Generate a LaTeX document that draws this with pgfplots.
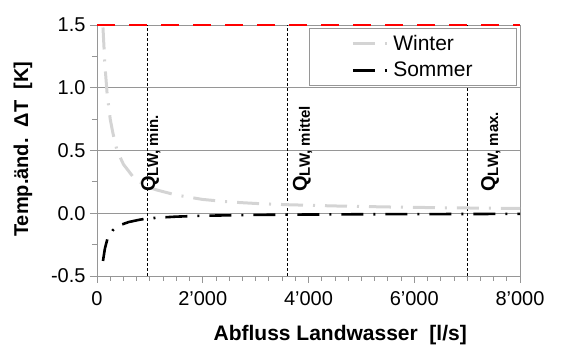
\documentclass[border=0pt]{standalone}
\usepackage{fontspec}
\setmainfont{Liberation Sans}
\usepackage{pgfplots}
\pgfplotsset{compat=1.18}
\definecolor{axgray}{RGB}{150,150,150}
\definecolor{wgray}{RGB}{212,212,212}
\begin{document}
\begin{tikzpicture}
\useasboundingbox (0,0) rectangle (561pt,347pt);
\begin{axis}[
  at={(97pt,71pt)}, anchor=south west,
  scale only axis, width=423pt, height=251pt,
  xmin=0, xmax=8000, ymin=-0.5, ymax=1.5,
  xtick={0,2000,4000,6000,8000},
  xticklabels={0,2'000,4'000,6'000,8'000},
  minor x tick num=7,
  ytick={-0.5,0,0.5,1,1.5},
  yticklabels={-0.5,0.0,0.5,1.0,1.5},
  minor y tick num=1,
  tick align=outside,
  major tick length=7pt, minor tick length=5pt,
  xtick pos=bottom, ytick pos=left,
  ymajorgrids,
  grid style={axgray, line width=0.8pt},
  axis line style={axgray, line width=0.8pt},
  every tick/.style={axgray, line width=0.8pt},
  tick label style={font=\fontsize{20}{22}\selectfont, black},
  xticklabel style={yshift=-5pt},
  yticklabel style={xshift=-1pt},
  xlabel={Abfluss Landwasser\ \ [l/s]},
  ylabel={Temp.änd.\ \ ΔT\ \ [K]},
  xlabel style={font=\fontsize{21}{23}\selectfont\bfseries, at={(axis description cs:0.575,-0.255)}, anchor=base},
  ylabel style={font=\fontsize{20}{22}\selectfont\bfseries, at={(axis description cs:-0.175,0.505)}, anchor=center},
  legend cell align=left,
  legend style={at={(rel axis cs:0.993,0.988)}, anchor=north east,
    draw=axgray, line width=0.8pt, fill=white,
    font=\fontsize{21}{23}\selectfont,
    inner xsep=42pt, inner ysep=5pt, row sep=6pt,
    nodes={inner sep=2pt}},
  legend image code/.code={\draw[#1] (0pt,0pt) -- (37pt,0pt);},
  clip=false,
]
% reference limit (red dashed)
\addplot[red, line width=2.6pt, dash pattern=on 18pt off 14pt, forget plot] coordinates {(0,1.5) (8000,1.5)};
% vertical markers
\addplot[black, line width=0.9pt, dash pattern=on 3pt off 2pt, forget plot] coordinates {(950,-0.5) (950,1.5)};
\addplot[black, line width=0.9pt, dash pattern=on 3pt off 2pt, forget plot] coordinates {(3600,-0.5) (3600,1.5)};
\addplot[black, line width=0.9pt, dash pattern=on 3pt off 2pt, forget plot] coordinates {(7000,-0.5) (7000,1.5)};
% Winter
\addplot[wgray, line width=3pt, dash pattern=on 22pt off 10pt on 2pt off 10pt] coordinates {
(113,1.48) (150,1.18) (190,0.96) (250,0.75) (300,0.64) (378,0.50) (500,0.39)
(700,0.28) (950,0.21) (1134,0.185) (1500,0.145) (2000,0.11) (2500,0.09)
(3000,0.078) (3600,0.068) (4500,0.058) (5500,0.05) (6500,0.044) (8000,0.038)};
\addlegendentry{Winter}
% Sommer
\addplot[black, line width=2.6pt, dash pattern=on 22pt off 10pt on 2pt off 10pt] coordinates {
(113,-0.38) (150,-0.28) (200,-0.20) (300,-0.135) (400,-0.10) (600,-0.07)
(800,-0.052) (950,-0.042) (1200,-0.034) (1500,-0.027) (2000,-0.02) (3000,-0.013)
(4000,-0.01) (5000,-0.008) (6000,-0.007) (7000,-0.006) (8000,-0.005)};
\addlegendentry{Sommer}
% labels
\node[rotate=90, anchor=base west, inner sep=0pt, font=\fontsize{20}{22}\selectfont\bfseries]
  at (axis cs:1097,0.17) {Q\raisebox{-3pt}{\fontsize{15}{15}\selectfont LW, min.}};
\node[rotate=90, anchor=base west, inner sep=0pt, font=\fontsize{20}{22}\selectfont\bfseries]
  at (axis cs:3970,0.17) {Q\raisebox{-3pt}{\fontsize{15}{15}\selectfont LW, mittel}};
\node[rotate=90, anchor=base west, inner sep=0pt, font=\fontsize{20}{22}\selectfont\bfseries]
  at (axis cs:7530,0.17) {Q\raisebox{-3pt}{\fontsize{15}{15}\selectfont LW, max.}};
\end{axis}
\end{tikzpicture}
\end{document}
